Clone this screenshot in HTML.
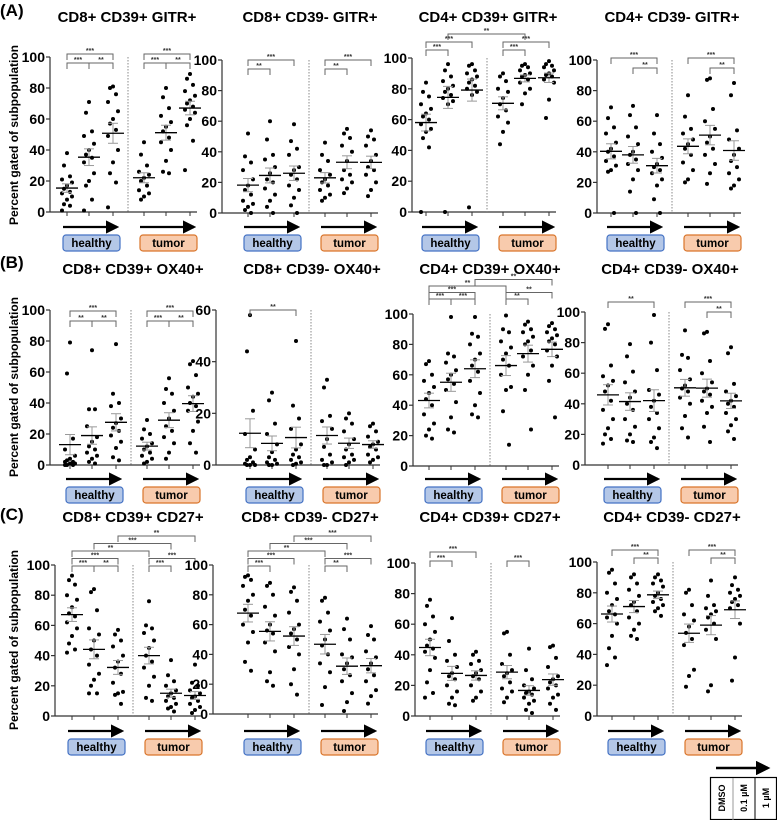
<!DOCTYPE html>
<html><head><meta charset="utf-8"><style>
html,body{margin:0;padding:0;background:#fff;}
svg{display:block;font-family:"Liberation Sans",Arial,sans-serif;}
</style></head><body>
<svg id="fig" width="777" height="820" viewBox="0 0 777 820" xmlns="http://www.w3.org/2000/svg"></svg>
<script>
const panelTitles=["CD8+ CD39+ GITR+","CD8+ CD39- GITR+","CD4+ CD39+ GITR+","CD4+ CD39- GITR+",
"CD8+ CD39+ OX40+","CD8+ CD39- OX40+","CD4+ CD39+ OX40+","CD4+ CD39- OX40+",
"CD8+ CD39+ CD27+","CD8+ CD39- CD27+","CD4+ CD39+ CD27+","CD4+ CD39- CD27+"];
const groupLabels=["healthy DMSO","healthy 0.1 µM","healthy 1 µM","tumor DMSO","tumor 0.1 µM","tumor 1 µM"];
const yMaxes=[100,100,100,100,100,60,100,100,100,100,100,100];
const yTicksStd=[0,20,40,60,80,100];
const yTicksSmall=[0,20,40,60];
const sigA1=[[0,1,0,"***"],[1,2,0,"**"],[0,2,1,"***"],[3,4,0,"***"],[4,5,0,"**"],[3,5,1,"***"]];
const sigA2=[[0,1,0,"**"],[0,2,1,"***"],[3,4,0,"**"],[3,5,1,"***"]];
const sigA3=[[0,1,0,"***"],[0,2,1,"***"],[3,4,0,"***"],[3,5,1,"***"],[1,4,2,"**"]];
const sigA4=[[1,2,0,"**"],[0,2,1,"***"],[4,5,0,"**"],[3,5,1,"***"]];
const sigB1=[[0,1,0,"**"],[1,2,0,"**"],[0,2,1,"***"],[3,4,0,"***"],[4,5,0,"**"],[3,5,1,"***"]];
const sigB2=[[0,2,0,"**"]];
const sigB3=[[0,1,0,"***"],[1,2,0,"***"],[3,4,0,"**"],[0,2,1,"***"],[3,5,1,"**"],[0,3,2,"**"],[2,5,3,"**"]];
const sigB4=[[0,2,1,"**"],[4,5,0,"**"],[3,5,1,"***"]];
const sigC1=[[0,1,0,"***"],[1,2,0,"**"],[3,4,0,"***"],[0,2,1,"***"],[3,5,1,"***"],[0,3,2,"**"],[1,4,3,"***"],[2,5,4,"**"]];
const sigC2=[[0,1,0,"***"],[3,4,0,"**"],[0,2,1,"***"],[3,5,1,"***"],[0,3,2,"**"],[1,4,3,"***"],[2,5,4,"***"]];
const sigC3=[[0,1,0,"***"],[0,2,1,"***"],[3,4,0,"***"]];
const sigC4=[[1,2,0,"**"],[0,2,1,"***"],[4,5,0,"**"],[3,5,1,"***"]];
const sigs=[sigA1,sigA2,sigA3,sigA4,sigB1,sigB2,sigB3,sigB4,sigC1,sigC2,sigC3,sigC4];

const dA1=[[38,30,23,21,19,17,15,13,12,10,8,5,4,1],[71,64,52,49,44,40,37,35,32,25,20,17,8,1],[81,80,76,71,65,60,57,53,49,40,32,25,19,3],[45,37,30,26,24,22,20,17,14,12,10,8],[80,74,67,62,58,55,52,48,45,40,33,26,25],[89,86,82,78,75,72,70,68,66,64,60,56,46,27]];
const dA2=[[52,37,33,28,22,18,15,12,8,6,4,2,0],[60,48,38,35,30,26,22,20,16,12,8,4,0],[58,47,42,38,30,28,25,22,18,15,10,5,0],[46,38,34,28,25,22,20,18,15,12,10,8],[55,52,49,44,40,34,28,25,22,20,16,13],[54,50,48,44,38,34,30,28,25,20,15,11]];
const dA3=[[84,78,75,70,67,64,62,60,57,54,52,48,42,0],[96,92,88,85,82,80,78,76,74,72,70,0],[96,95,92,90,88,86,84,82,80,78,76,3],[90,88,85,80,78,74,70,66,62,58,52,44],[96,95,94,92,90,89,88,86,84,80,77,70],[98,96,95,94,92,90,89,88,86,84,73,61]];
const dA4=[[69,62,56,52,46,42,40,37,34,31,28,27,0],[70,64,56,50,45,40,38,35,32,28,22,14,0],[64,52,45,40,36,32,30,28,26,22,18,9,0],[77,63,55,52,48,45,42,38,33,28,22,20],[88,87,68,60,55,50,46,42,38,32,26,19],[85,77,54,48,42,38,34,30,26,22,18,16]];
const dB1=[[79,59,17,10,6,4,3,2,2,1,1,0,0,0],[74,36,36,25,18,15,12,10,8,6,4,2,1],[78,46,40,38,30,27,24,22,19,15,11,5,3],[29,23,20,17,14,12,10,8,6,4,2,1],[56,49,46,40,35,30,25,22,18,14,8,4],[67,65,58,50,46,44,40,38,35,28,22,14,8]];
const dB2=[[58,44,21,12,6,3,2,1,0.5,0,0,0],[28,25,16,12,8,5,3,2,1,0.5,0,0],[48,23,18,14,8,6,4,3,2,1,0.5,0],[33,30,19,17,14,10,7,4,2,1,0,0],[20,18,16,13,10,8,6,4,3,2,1,0],[16,15,13,11,9,8,7,6,4,3,2,1]];
const dB3=[[69,67,60,56,52,48,44,40,34,28,24,20,18],[98,74,72,68,63,60,57,54,50,42,32,24,22],[98,87,85,80,74,70,66,62,56,48,40,34,32],[99,90,88,82,78,74,70,66,60,52,50,36,14],[95,93,90,88,85,82,80,76,72,66,60,50,24],[94,92,90,88,86,84,82,80,76,72,66,56,32]];
const dB4=[[92,89,65,58,55,52,48,42,36,30,24,20,17,14],[79,71,61,54,48,44,40,36,30,25,20,16,15],[98,80,62,49,46,42,38,34,30,24,18,15,11],[88,72,70,62,56,52,50,48,44,40,32,24,18],[87,86,68,60,54,50,48,46,42,38,34,25,15],[77,73,53,48,45,42,40,38,34,30,26,22,17]];
const dC1=[[93,90,87,80,77,72,68,66,62,58,53,48,44,42],[84,82,70,58,54,50,44,40,34,28,24,20,15,15],[57,54,50,46,40,36,32,28,22,16,15,14,8],[76,60,58,55,50,45,40,36,32,26,20,12,10],[37,27,23,20,17,15,13,12,10,8,6,5,3],[34,22,20,17,15,13,12,10,8,6,4,2]];
const dC2=[[93,92,90,86,80,76,70,66,60,55,48,35,29],[88,86,80,72,66,60,56,54,48,42,28,22,19],[85,82,76,68,60,57,54,50,45,40,30,20,13],[78,76,68,62,56,50,46,40,34,28,18,6],[64,57,50,40,38,34,30,26,22,14,8,2],[59,53,50,42,38,34,30,26,22,16,12,7]];
const dC3=[[76,72,65,60,55,50,46,44,42,38,30,22,15,12],[64,49,40,36,32,28,26,24,20,16,12,8,7],[42,40,36,34,30,28,26,24,20,16,12,10],[55,54,40,34,30,28,26,22,18,16,12,9],[44,30,24,20,18,16,15,14,12,10,8,4,2],[46,45,38,32,26,24,22,20,18,14,12,8,4]];
const dC4=[[95,93,86,80,76,72,68,66,64,60,52,44,38,33],[92,90,86,82,78,74,72,68,64,60,56,52,50],[92,90,88,86,84,80,78,76,74,72,70,68,65],[82,80,72,66,62,58,54,50,46,30,26,19],[88,78,72,70,68,66,64,60,56,50,20,16],[90,85,82,80,78,76,74,72,70,60,38,23]];
const panelData=[dA1,dA2,dA3,dA4,dB1,dB2,dB3,dB4,dC1,dC2,dC3,dC4];

// layout (not data)
const L=[
 {ax:50,g0:67,top:57,zero:212,tx:127,ty:22,base:6,sp:9,box:235},
 {ax:222,g0:248,top:60,zero:213,tx:310,ty:22,base:9,sp:9,box:235},
 {ax:412,g0:426,top:58,zero:212,tx:488,ty:22,base:-8,sp:8,box:235},
 {ax:597,g0:611,top:60,zero:213,tx:672,ty:22,base:8,sp:10,box:235},
 {ax:50,g0:70,top:310,zero:465,tx:133,ty:274,base:11,sp:10,box:487},
 {ax:216,g0:250,top:310,zero:465,tx:312,ty:274,base:0,sp:9,box:487},
 {ax:413,g0:429,top:314,zero:466,tx:490,ty:274,base:-15,sp:6.5,box:487},
 {ax:585,g0:608,top:312,zero:465,tx:670,ty:274,base:0,sp:10,box:487},
 {ax:55,g0:72,top:565,zero:716,tx:133,ty:522,base:1,sp:7.5,box:739},
 {ax:213,g0:248,top:565,zero:714,tx:310,ty:522,base:1,sp:7.5,box:739},
 {ax:415,g0:430,top:563,zero:716,tx:490,ty:522,base:-2,sp:9,box:739},
 {ax:597,g0:612,top:562,zero:716,tx:672,ty:522,base:-4,sp:8,box:739}];
const gOff=[0,22,46,77,99,123];

const NS="http://www.w3.org/2000/svg";
const svg=document.getElementById("fig");
function mk(tag,attrs,parent,txt){const e=document.createElementNS(NS,tag);for(const k in attrs)e.setAttribute(k,attrs[k]);if(txt!==undefined)e.textContent=txt;(parent||svg).appendChild(e);return e;}

const defs=mk("defs",{});
const mkr=mk("marker",{id:"ah",markerWidth:"6",markerHeight:"6",refX:"5",refY:"3",orient:"auto",markerUnits:"strokeWidth"},defs);
mk("path",{d:"M0,0 L6,3 L0,6 z",fill:"#000"},mkr);

[["(A)",16,135],["(B)",268,387],["(C)",520,640]].forEach(([t,y,yc],i)=>{
 const a=mk("text",{x:0,y:y,"font-size":"17","font-weight":"bold"},svg,t);
 
 
 const yt=mk("text",{x:0,y:0,"font-size":"12","font-weight":"bold","text-anchor":"middle",transform:`translate(18,${yc}) rotate(-90)`},svg,"Percent gated of subpopulation");
 
 
});

panelData.forEach((data,p)=>{
 const c=L[p];
 const g=mk("g",{});
 
 
 const ymax=yMaxes[p];
 const yS=v=>c.zero-(v/ymax)*(c.zero-c.top);
 const xS=i=>c.g0+gOff[i];
 const tt=mk("text",{x:c.tx,y:c.ty,"font-size":"15","font-weight":"bold","text-anchor":"middle"},g,panelTitles[p]);
 
 
 const yax=mk("line",{x1:c.ax,y1:c.top,x2:c.ax,y2:c.zero,stroke:"#333","stroke-width":"1.2"},g);
 
 
 const xEnd=c.g0+130;
 const xax=mk("line",{x1:c.ax,y1:c.zero,x2:xEnd,y2:c.zero,stroke:"#333","stroke-width":"1.2"},g);
 
 
 const ticks=ymax===60?yTicksSmall:yTicksStd;
 ticks.forEach(t=>{
  mk("line",{x1:c.ax-4,y1:yS(t),x2:c.ax,y2:yS(t),stroke:"#333","stroke-width":"1.2"},g);
  const tl=mk("text",{x:c.ax-5,y:yS(t)+5,"font-size":"14","font-weight":"bold","text-anchor":"end"},g,String(t));
  
  
 });
 for(let i=0;i<6;i++) mk("line",{x1:xS(i),y1:c.zero,x2:xS(i),y2:c.zero+4,stroke:"#333","stroke-width":"1"},g);
 const sep=mk("line",{x1:c.g0+61,y1:c.top,x2:c.g0+61,y2:c.zero,stroke:"#888","stroke-width":"1","stroke-dasharray":"1.5,1.5"},g);
 
 
 data.forEach((vals,gi)=>{
  const gg=mk("g",{},g);
  
  
  const n=vals.length;const mean=vals.reduce((a,b)=>a+b,0)/n;
  const sd=Math.sqrt(vals.reduce((a,b)=>a+(b-mean)*(b-mean),0)/(n-1));const se=sd/Math.sqrt(n);
  const sorted=vals.slice().sort((a,b)=>b-a);
  sorted.forEach((v,i)=>{
   const off=[0,-3,3,-5,5][i%5];
   const pt=mk("circle",{cx:xS(gi)+off,cy:yS(v),r:2.0,fill:"#000"},gg);
   
   
  });
  mk("line",{x1:xS(gi),y1:yS(mean-se),x2:xS(gi),y2:yS(mean+se),stroke:"#999","stroke-width":"1"},gg);
  mk("line",{x1:xS(gi)-5,y1:yS(mean+se),x2:xS(gi)+5,y2:yS(mean+se),stroke:"#999","stroke-width":"1"},gg);
  mk("line",{x1:xS(gi)-5,y1:yS(mean-se),x2:xS(gi)+5,y2:yS(mean-se),stroke:"#999","stroke-width":"1"},gg);
  const ml=mk("line",{x1:xS(gi)-11,y1:yS(mean),x2:xS(gi)+11,y2:yS(mean),stroke:"#000","stroke-width":"1.3"},gg);
  
  
 });
 sigs[p].forEach(([a,b,lv,lab])=>{
  const y=c.top+c.base-lv*c.sp;
  const x1=xS(a),x2=xS(b);
  const br=mk("path",{d:`M${x1},${y+6} V${y} H${x2} V${y+6}`,fill:"none",stroke:"#666","stroke-width":"1"},g);
  
  
  const st=mk("text",{x:(x1+x2)/2,y:y-1,"font-size":"7","font-weight":"bold","text-anchor":"middle",fill:"#333"},g,lab);
  
  
 });
 [["healthy","#b4c7e7","#4472c4",c.g0-4],["tumor","#f8cbad","#d9752b",c.g0+73]].forEach(([nm,fill,str,bx])=>{
  const ar=mk("line",{x1:bx,y1:c.box-8,x2:bx+54,y2:c.box-8,stroke:"#000","stroke-width":"2.2","marker-end":"url(#ah)"},g);
  
  
  const r=mk("rect",{x:bx,y:c.box,width:57,height:16,rx:3,fill:fill,stroke:str,"stroke-width":"1.2"},g);
  
  
  const t=mk("text",{x:bx+28.5,y:c.box+12,"font-size":"11.5","font-weight":"bold","text-anchor":"middle"},g,nm);
  
  
 });
});

const lg=mk("g",{});


mk("line",{x1:716,y1:768,x2:768,y2:768,stroke:"#000","stroke-width":"2.4","marker-end":"url(#ah)"},lg);
mk("rect",{x:710.5,y:777.5,width:66,height:42,fill:"#fff",stroke:"#000","stroke-width":"1.2"},lg);
mk("line",{x1:733,y1:778,x2:733,y2:820,stroke:"#999","stroke-width":"1"},lg);
mk("line",{x1:755,y1:778,x2:755,y2:820,stroke:"#000","stroke-width":"1"},lg);
[["DMSO",725],["0.1 µM",747],["1 µM",769]].forEach(([t,x])=>{
 const e=mk("text",{x:0,y:0,"font-size":"9","font-weight":"bold","text-anchor":"middle",transform:`translate(${x},798) rotate(-90)`},lg,t);
 
 
});
</script>
</body></html>
